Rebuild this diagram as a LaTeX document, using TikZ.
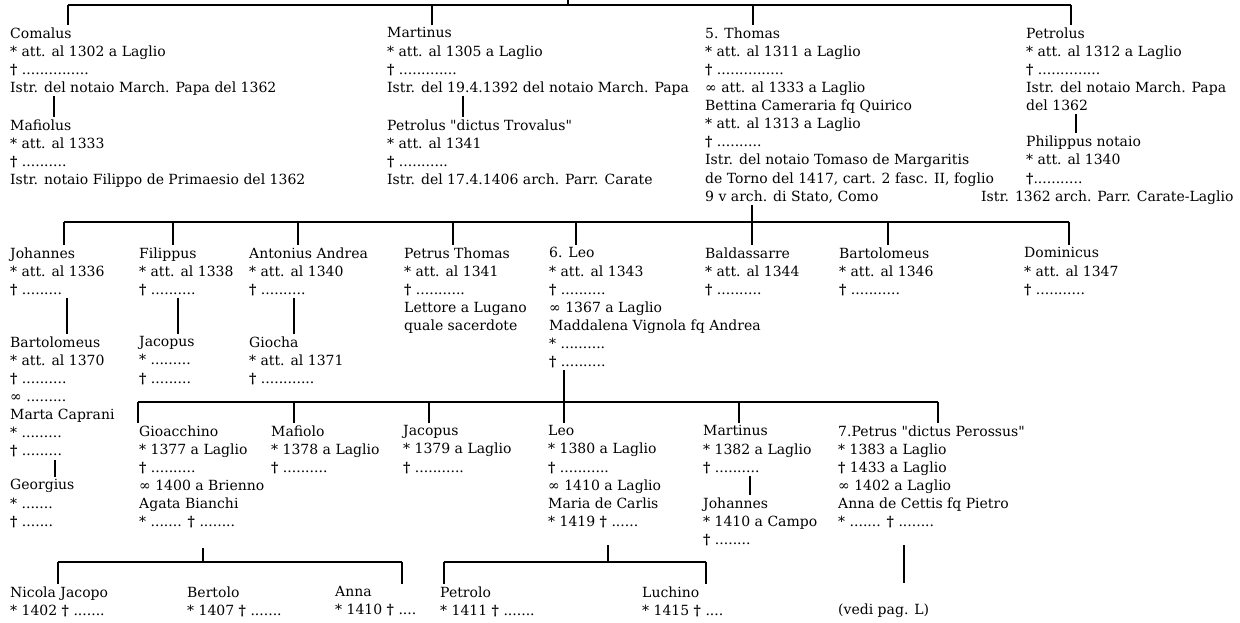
\documentclass[tikz,border=0pt]{standalone}
\usepackage{fontspec}
\newfontfamily\genfam{DejaVu Serif}
\newcommand\genfont{\genfam\fontsize{14}{18.1}\selectfont}
\newcommand\dg{{\bfseries †}}
\tikzset{
  pers/.style={anchor=north west, align=left, inner sep=0pt, font=\genfont,
    execute at begin node={\rule{0pt}{10.6pt}},
    execute at end node={\rule[-3.5pt]{0pt}{0pt}}},
  rail/.style={line width=1.1pt},
  tick/.style={line width=1.8pt},
  tonode/.style={tick, shorten >=2.5pt},
}
\begin{document}
\begin{tikzpicture}[x=1pt,y=-1pt]
\useasboundingbox[fill=white] (0,0) rectangle (1240,623);

% ---------- generation 1
\node[pers] (comalus) at (10,27.4) {Comalus\\* att. al 1302 a Laglio\\\dg{} ...............\\Istr. del notaio March. Papa del 1362};
\node[pers] (martinus) at (387,27.4) {Martinus\\* att. al 1305 a Laglio\\\dg{} .............\\Istr. del 19.4.1392 del notaio March. Papa};
\node[pers] (thomas) at (705,27.4) {5. Thomas\\* att. al 1311 a Laglio\\\dg{} ...............\\∞ att. al 1333 a Laglio\\Bettina Cameraria fq Quirico\\* att. al 1313 a Laglio\\\dg{} ..........\\Istr. del notaio Tomaso de Margaritis\\de Torno del 1417, cart. 2 fasc. II, foglio\\9 v arch. di Stato, Como};
\node[pers] (petrolus) at (1026,27.4) {Petrolus\\* att. al 1312 a Laglio\\\dg{} ..............\\Istr. del notaio March. Papa\\del 1362};
\node[pers] (mafiolus) at (10,119.4) {Mafiolus\\* att. al 1333\\\dg{} ..........\\Istr. notaio Filippo de Primaesio del 1362};
\node[pers] (petrolusT) at (387,119.4) {Petrolus "dictus Trovalus"\\* att. al 1341\\\dg{} ...........\\Istr. del 17.4.1406 arch. Parr. Carate};
\node[pers] (philippus) at (1026,136) {Philippus notaio\\* att. al 1340\\\dg...........};
\node[pers] (istrphil) at (981,190.3) {Istr. 1362 arch. Parr. Carate-Laglio};

\coordinate (top) at (568,0);
\coordinate (r1L) at (68,5);
\coordinate (r1R) at (1071,5);
\coordinate (r1a) at (432,5);
\coordinate (r1b) at (753,5);
\draw[rail] (r1L) -- (r1R);
\draw[rail] (top) -- (top |- r1L);
\draw[tonode] (r1L) -- (r1L |- comalus.north);
\draw[tonode] (r1a) -- (r1a |- martinus.north);
\draw[tonode] (r1b) -- (r1b |- thomas.north);
\draw[tonode] (r1R) -- (r1R |- petrolus.north);

\coordinate (c1) at ([xshift=44pt]comalus.south west);
\draw[tonode] (c1) -- (c1 |- mafiolus.north);
\coordinate (c2) at ([xshift=76pt]martinus.south west);
\draw[tonode] (c2) -- (c2 |- petrolusT.north);
\coordinate (c3) at ([xshift=50pt]petrolus.south west);
\draw[tonode] (c3) -- (c3 |- philippus.north);

% ---------- generation 2
\node[pers] (johannes) at (10,247.4) {Johannes\\* att. al 1336\\\dg{} .........};
\node[pers] (filippus) at (139,247.4) {Filippus\\* att. al 1338\\\dg{} ..........};
\node[pers] (antonius) at (249,247.4) {Antonius Andrea\\* att. al 1340\\\dg{} ..........};
\node[pers] (petrusT) at (404,247.4) {Petrus Thomas\\* att. al 1341\\\dg{} ...........\\Lettore a Lugano\\quale sacerdote};
\node[pers] (leoA) at (549,247.4) {6. Leo\\* att. al 1343\\\dg{} ..........\\∞ 1367 a Laglio\\Maddalena Vignola fq Andrea\\* ..........\\\dg{} ..........};
\node[pers] (baldassarre) at (705,247.4) {Baldassarre\\* att. al 1344\\\dg{} ..........};
\node[pers] (bartolomeusA) at (839,247.4) {Bartolomeus\\* att. al 1346\\\dg{} ...........};
\node[pers] (dominicus) at (1024,247.4) {Dominicus\\* att. al 1347\\\dg{} ...........};

\coordinate (r2L) at (64,222);
\coordinate (r2R) at (1069,222);
\draw[rail] (r2L) -- (r2R);
\coordinate (r2a) at (173,222);
\coordinate (r2b) at (298,222);
\coordinate (r2c) at (453,222);
\coordinate (r2d) at (576,222);
\coordinate (r2e) at (888,222);
\draw[tonode] (r2L) -- (r2L |- johannes.north);
\draw[tonode] (r2a) -- (r2a |- filippus.north);
\draw[tonode] (r2b) -- (r2b |- antonius.north);
\draw[tonode] (r2c) -- (r2c |- petrusT.north);
\draw[tonode] (r2d) -- (r2d |- leoA.north);
\draw[tonode] (r2e) -- (r2e |- bartolomeusA.north);
\draw[tonode] (r2R) -- (r2R |- dominicus.north);
\coordinate (thd) at ([xshift=47pt]thomas.south west);
\draw[tonode] (thd) -- (thd |- baldassarre.north);

\node[pers] (bartolomeusB) at (10,336.4) {Bartolomeus\\* att. al 1370\\\dg{} ..........\\∞ .........\\Marta Caprani\\* .........\\\dg{} .........};
\node[pers] (jacopusA) at (139,336.4) {Jacopus\\* .........\\\dg{} .........};
\node[pers] (giocha) at (249,336.4) {Giocha\\* att. al 1371\\\dg{} ............};
\node[pers] (georgius) at (10,479.4) {Georgius\\* .......\\\dg{} .......};

\coordinate (d1) at ([xshift=57pt]johannes.south west);
\draw[tonode] (d1) -- (d1 |- bartolomeusB.north);
\coordinate (d2) at ([xshift=39pt]filippus.south west);
\draw[tonode] (d2) -- (d2 |- jacopusA.north);
\coordinate (d3) at ([xshift=45pt]antonius.south west);
\draw[tonode] (d3) -- (d3 |- giocha.north);
\coordinate (d4) at ([xshift=45pt]bartolomeusB.south west);
\draw[tonode] (d4) -- (d4 |- georgius.north);

% ---------- generation 3
\node[pers] (gioacchino) at (139,425.4) {Gioacchino\\* 1377 a Laglio\\\dg{} ..........\\∞ 1400 a Brienno\\Agata Bianchi\\* ....... \dg{} ........};
\node[pers] (mafiolo) at (271,425.4) {Mafiolo\\* 1378 a Laglio\\\dg{} ..........};
\node[pers] (jacopusB) at (403,425.4) {Jacopus\\* 1379 a Laglio\\\dg{} ...........};
\node[pers] (leoB) at (548,425.4) {Leo\\* 1380 a Laglio\\\dg{} ...........\\∞ 1410 a Laglio\\Maria de Carlis\\* 1419 \dg{} ......};
\node[pers] (martinusB) at (703,425.4) {Martinus\\* 1382 a Laglio\\\dg{} ..........};
\node[pers] (petrus7) at (838,425.4) {7.Petrus "dictus Perossus"\\* 1383 a Laglio\\\dg{} 1433 a Laglio\\∞ 1402 a Laglio\\Anna de Cettis fq Pietro\\* ....... \dg{} ........};
\node[pers] (johannesB) at (703,497.4) {Johannes\\* 1410 a Campo\\\dg{} ........};

\coordinate (r3L) at (138,402);
\coordinate (r3R) at (938,402);
\draw[rail] (r3L) -- (r3R);
\coordinate (r3a) at (294,402);
\coordinate (r3b) at (429,402);
\coordinate (r3c) at (739,402);
\coordinate (ld) at ([xshift=15pt]leoA.south west);
\draw[tonode] (r3L) -- (r3L |- gioacchino.north);
\draw[tonode] (r3a) -- (r3a |- mafiolo.north);
\draw[tonode] (r3b) -- (r3b |- jacopusB.north);
\draw[tonode] (ld) -- (ld |- leoB.north);
\draw[tonode] (r3c) -- (r3c |- martinusB.north);
\draw[tonode] (r3R) -- (r3R |- petrus7.north);
\coordinate (e1) at ([xshift=47pt]martinusB.south west);
\draw[tonode] (e1) -- (e1 |- johannesB.north);

% ---------- generation 4
\node[pers] (nicola) at (10,586.4) {Nicola Jacopo\\* 1402 \dg{} .......};
\node[pers] (bertolo) at (187,586.4) {Bertolo\\* 1407 \dg{} .......};
\node[pers] (anna) at (335,586.4) {Anna\\* 1410 \dg{} ....};
\node[pers] (petrolo) at (440,586.4) {Petrolo\\* 1411 \dg{} .......};
\node[pers] (luchino) at (642,586.4) {Luchino\\* 1415 \dg{} ....};
\node[pers] (vedi) at (838,603.4) {(vedi pag. L)};

\coordinate (g4) at (203,548);
\coordinate (r4aL) at (58,562);
\coordinate (r4aR) at (402,562);
\draw[tick] (g4) -- (g4 |- r4aL);
\draw[rail] (r4aL) -- (r4aR);
\draw[tonode] (r4aL) -- (r4aL |- nicola.north);
\draw[tonode] (r4aR) -- (r4aR |- anna.north);

\coordinate (l4) at (608,545);
\coordinate (r4bL) at (444,562);
\coordinate (r4bR) at (706,562);
\draw[tick] (l4) -- (l4 |- r4bL);
\draw[rail] (r4bL) -- (r4bR);
\draw[tonode] (r4bL) -- (r4bL |- petrolo.north);
\draw[tonode] (r4bR) -- (r4bR |- luchino.north);

\coordinate (p7a) at (904,545);
\coordinate (p7b) at (904,583);
\draw[tick] (p7a) -- (p7b);
\end{tikzpicture}
\end{document}
